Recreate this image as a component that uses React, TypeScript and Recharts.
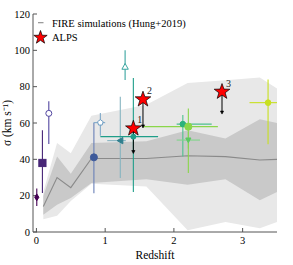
import React from 'react';
import { ComposedChart, XAxis, YAxis, Area, Line, Scatter, ErrorBar } from 'recharts';

// FIRE simulation bands (Hung+2019)
const bandZ = [0.1, 0.3, 0.5, 0.8, 1.6, 2.2, 2.75, 3.25, 3.5];
const bandMedian = [14, 30, 24.4, 40.5, 40.5, 42, 41.5, 39.6, 40];
const darkLow = [9.5, 15, 18.7, 27, 29, 26, 29, 17.5, 22];
const darkHigh = [20, 41.5, 32, 49, 50, 56, 51.5, 62, 60];
const lightLow = [7, 9, 17, 26.5, 25, 1, 5.5, 2, 5.5];
const lightHigh = [22, 49, 43.4, 64, 70, 82, 83.5, 85, 79];

// literature points
const pointZ = [0.005, 0.087, 0.18, 0.836, 0.93, 1.22, 1.29, 1.41, 2.13, 2.21, 2.21, 3.37];
const pointSigma = [19.1, 38, 65.3, 41.1, 60.2, 50.3, 91, 52.5, 59.4, 50.6, 58, 71.2];
const sigmaLow = [14.3, 21.4, 48.4, 21.3, 53, 29.7, 83.7, 22, 41.5, 46, 32.5, 48.3];
const sigmaHigh = [24, 56, 72, 60, 65.5, 74.5, 100, 84.8, 64.4, 55, 68, 84];
const zLow = [-0.02, 0.087, 0.18, 0.836, 0.83, 1.03, 1.29, 0.93, 2.04, 2.04, 1.55, 3.1];
const zHigh = [0.03, 0.087, 0.18, 0.836, 1.0, 1.3, 1.29, 1.77, 2.55, 2.38, 2.64, 3.5];

// ALPS
const alpsZ = [1.41, 1.55, 2.7];
const alpsSigma = [57, 73, 77.2];
const alpsLimit = [44.2, 58.3, 65.9];
const alpsLabel = ['1', '2', '3'];

const yTicks = [0, 20, 40, 60, 80, 100, 120];
const xTicks = [0, 1, 2, 3];

const pointStyles = [
  { shape: 'diamond', color: '#440154', err: '#440154', r: 2.6, open: false },
  { shape: 'square', color: '#482677', err: '#482677', r: 3.6, open: false },
  { shape: 'circle', color: '#5246a0', err: '#5246a0', r: 3, open: true },
  { shape: 'circle', color: '#3e5a9a', err: '#6a80b8', r: 3.5, open: false },
  { shape: 'pentagon', color: '#6f9ec4', err: '#7ea8c8', r: 3, open: true },
  { shape: 'triLeft', color: '#2f7f8e', err: '#86b4c0', r: 3.2, open: false },
  { shape: 'triUp', color: '#38a5a0', err: '#38a5a0', r: 3.2, open: true },
  { shape: 'circle', color: '#1f9e89', err: '#1f9e89', r: 2.5, open: false },
  { shape: 'circle', color: '#2cb27c', err: '#4cc08e', r: 2.8, open: false },
  { shape: 'triDown', color: '#5cc863', err: '#80d48a', r: 2.6, open: false },
  { shape: 'circle', color: '#8ad64a', err: '#8ad64a', r: 3.6, open: false },
  { shape: 'circle', color: '#c8e020', err: '#c8e020', r: 2.8, open: false },
];

const bandData = bandZ.map((z, i) => ({
  z,
  light: [lightLow[i], lightHigh[i]],
  dark: [darkLow[i], darkHigh[i]],
  median: bandMedian[i],
}));

const pointData = pointZ.map((z, i) => ({
  z,
  sigma: pointSigma[i],
  ey: [pointSigma[i] - sigmaLow[i], sigmaHigh[i] - pointSigma[i]],
  ex: [z - zLow[i], zHigh[i] - z],
}));

const alpsData = alpsZ.map((z, i) => ({
  z,
  sigma: alpsSigma[i],
  drop: [alpsSigma[i] - alpsLimit[i], 0],
  label: alpsLabel[i],
}));
const tipData = alpsZ.map((z, i) => ({ z, sigma: alpsLimit[i] }));

const FONT = '"Liberation Serif", "Times New Roman", serif';

function starPoints(cx: number, cy: number, R: number) {
  const r = R * 0.4;
  const pts: string[] = [];
  for (let k = 0; k < 10; k++) {
    const ang = -Math.PI / 2 + (k * Math.PI) / 5;
    const rad = k % 2 === 0 ? R : r;
    pts.push(`${cx + rad * Math.cos(ang)},${cy + rad * Math.sin(ang)}`);
  }
  return pts.join(' ');
}

function Marker({ cx, cy, st }: any) {
  if (cx == null || cy == null) return null;
  const fill = st.open ? '#ffffff' : st.color;
  const r = st.r;
  const common = { fill, stroke: st.color, strokeWidth: 1 };
  switch (st.shape) {
    case 'square':
      return <rect x={cx - r} y={cy - r} width={2 * r} height={2 * r} {...common} />;
    case 'diamond':
      return <polygon points={`${cx},${cy - r * 1.3} ${cx + r * 0.8},${cy} ${cx},${cy + r * 1.3} ${cx - r * 0.8},${cy}`} {...common} />;
    case 'triLeft':
      return <polygon points={`${cx - r},${cy} ${cx + r * 0.8},${cy - r} ${cx + r * 0.8},${cy + r}`} {...common} />;
    case 'triUp':
      return <polygon points={`${cx},${cy - r} ${cx + r},${cy + r * 0.8} ${cx - r},${cy + r * 0.8}`} {...common} />;
    case 'triDown':
      return <polygon points={`${cx},${cy + r} ${cx + r},${cy - r * 0.8} ${cx - r},${cy - r * 0.8}`} {...common} />;
    case 'pentagon': {
      const pts: string[] = [];
      for (let k = 0; k < 5; k++) {
        const a = -Math.PI / 2 + (k * 2 * Math.PI) / 5;
        pts.push(`${cx + r * Math.cos(a)},${cy + r * Math.sin(a)}`);
      }
      return <polygon points={pts.join(' ')} {...common} />;
    }
    default:
      return <circle cx={cx} cy={cy} r={r} {...common} />;
  }
}

function StarShape(props: any) {
  const { cx, cy, payload } = props;
  if (cx == null) return null;
  return (
    <g>
      <polygon points={starPoints(cx, cy, 8.2)} fill="#ff0000" stroke="#000" strokeWidth={0.7} />
      <text x={cx + 4} y={cy - 5} fontFamily={FONT} fontSize={10} fill="#222">{payload.label}</text>
    </g>
  );
}

function TipShape(props: any) {
  const { cx, cy } = props;
  if (cx == null) return null;
  return <polygon points={`${cx},${cy + 1.8} ${cx + 1.6},${cy - 1.2} ${cx - 1.6},${cy - 1.2}`} fill="#000" stroke="#000" strokeWidth={0.6} />;
}

const tickStyle = { fontFamily: FONT, fontSize: 10.5, fill: '#000' };
const AX = '#555';

export default function App() {
  return (
    <div style={{ position: 'absolute', left: 0, top: 0, width: 293, height: 265, background: '#fff' }}>
      <ComposedChart width={293} height={265} data={bandData} margin={{ top: 14, right: 16, bottom: 0, left: 0 }}>
        <XAxis
          xAxisId="b"
          dataKey="z"
          type="number"
          domain={[-0.05, 3.5]}
          allowDataOverflow
          ticks={xTicks}
          tickSize={-4}
          tickMargin={9}
          height={33}
          stroke={AX}
          tick={tickStyle}
          label={{ value: 'Redshift', position: 'insideBottom', offset: 6, style: { fontFamily: FONT, fontSize: 11.5, fill: '#000' } }}
        />
        <XAxis
          xAxisId="t"
          orientation="top"
          dataKey="z"
          type="number"
          domain={[-0.05, 3.5]}
          allowDataOverflow
          ticks={xTicks}
          tickSize={-4}
          height={0}
          stroke={AX}
          tickFormatter={() => ''}
        />
        <YAxis
          yAxisId="l"
          type="number"
          domain={[0, 120]}
          allowDataOverflow
          ticks={yTicks}
          tickSize={-4}
          tickMargin={7}
          width={33}
          stroke={AX}
          tick={tickStyle}
          label={{ value: 'σ (km s⁻¹)', angle: -90, position: 'insideLeft', offset: 7, style: { fontFamily: FONT, fontSize: 11.5, fill: '#000', textAnchor: 'middle' } }}
        />
        <YAxis
          yAxisId="r"
          orientation="right"
          type="number"
          domain={[0, 120]}
          allowDataOverflow
          ticks={yTicks}
          tickSize={-4}
          width={0}
          stroke={AX}
          tickFormatter={() => ''}
        />
        <Area xAxisId="b" yAxisId="l" type="linear" dataKey="light" fill="#e8e8e8" fillOpacity={1} stroke="none" isAnimationActive={false} />
        <Area xAxisId="b" yAxisId="l" type="linear" dataKey="dark" fill="#c9c9c9" fillOpacity={1} stroke="none" isAnimationActive={false} />
        <Line xAxisId="b" yAxisId="l" type="linear" dataKey="median" stroke="#8a8a8a" strokeWidth={1.1} dot={false} isAnimationActive={false} />
        {pointData.map((d, i) => {
          const st = pointStyles[i];
          const hasX = zHigh[i] - zLow[i] > 0;
          return (
            <Scatter
              key={`p${i}`}
              xAxisId="b"
              yAxisId="l"
              data={[d]}
              dataKey="sigma"
              isAnimationActive={false}
              shape={(p: any) => <Marker cx={p.cx} cy={p.cy} st={st} />}
            >
              <ErrorBar dataKey="ey" direction="y" width={0} stroke={st.err} strokeWidth={1.1} />
              {hasX ? <ErrorBar dataKey="ex" direction="x" width={0} stroke={st.err} strokeWidth={1.1} /> : null}
            </Scatter>
          );
        })}
        <Scatter xAxisId="b" yAxisId="l" data={tipData} dataKey="sigma" isAnimationActive={false} shape={TipShape} />
        <Scatter xAxisId="b" yAxisId="l" data={alpsData} dataKey="sigma" isAnimationActive={false} shape={StarShape}>
          <ErrorBar dataKey="drop" direction="y" width={0} stroke="#000" strokeWidth={1} />
        </Scatter>
      </ComposedChart>
      <div style={{ position: 'absolute', left: 0, top: 0, width: 293, height: 60, pointerEvents: 'none' }}>
        <svg width={293} height={60} style={{ position: 'absolute', left: 0, top: 0 }}>
          <line x1={38} y1={22.7} x2={43.5} y2={22.7} stroke="#8a8a8a" strokeWidth={1.1} />
          <polygon points={starPoints(40.5, 37.5, 7)} fill="#ff0000" stroke="#000" strokeWidth={0.7} />
          <text x={52} y={26.5} fontFamily={FONT} fontSize={10.5} fill="#000">FIRE simulations (Hung+2019)</text>
          <text x={52} y={41} fontFamily={FONT} fontSize={10.5} fill="#000">ALPS</text>
        </svg>
      </div>
    </div>
  );
}
